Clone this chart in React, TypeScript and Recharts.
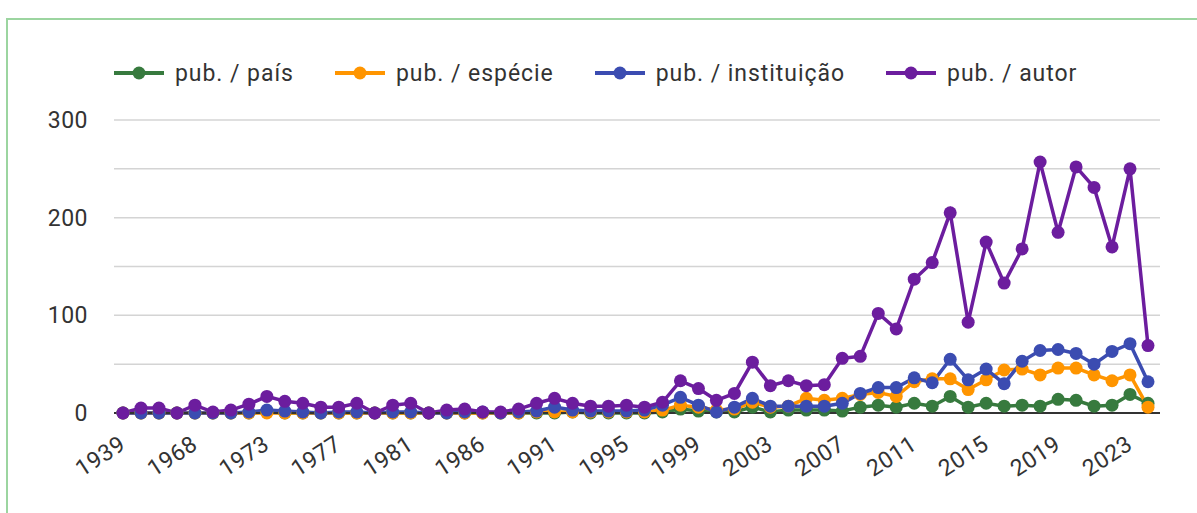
import { CartesianGrid, Line, LineChart, XAxis, YAxis } from 'recharts'

const years = [
  '1939', '1955', '1960', '1965', '1968', '1969', '1970', '1971', '1973', '1974',
  '1975', '1976', '1977', '1978', '1979', '1980', '1981', '1982', '1983', '1984',
  '1986', '1987', '1988', '1989', '1991', '1992', '1993', '1994', '1995', '1996',
  '1997', '1998', '1999', '2000', '2001', '2002', '2003', '2004', '2005', '2006',
  '2007', '2008', '2009', '2010', '2011', '2012', '2013', '2014', '2015', '2016',
  '2017', '2018', '2019', '2020', '2021', '2022', '2023', '2024',
]

const pubPais = [
  0, 0, 0, 0, 0, 0, 0, 0, 1, 0, 0, 0, 0, 0, 0, 0, 0, 0, 0, 0,
  0, 0, 0, 0, 0, 1, 0, 0, 0, 0, 1, 4, 2, 1, 1, 6, 1, 3, 3, 3,
  2, 6, 8, 6, 10, 7, 17, 6, 10, 7, 8, 7, 14, 13, 7, 8, 19, 10,
]

const pubEspecie = [
  0, 0, 0, 0, 0, 0, 0, 0, 0, 0, 0, 0, 0, 0, 0, 0, 0, 0, 0, 0,
  0, 0, 0, 1, 1, 1, 1, 1, 1, 1, 3, 8, 6, 3, 4, 11, 6, 7, 15, 13,
  15, 19, 21, 17, 32, 35, 35, 24, 34, 44, 45, 39, 46, 46, 39, 33, 39, 6,
]

const pubInstituicao = [
  0, 0, 0, 0, 0, 0, 0, 1, 3, 2, 1, 0, 1, 1, 0, 1, 1, 0, 0, 1,
  1, 0, 1, 2, 6, 3, 2, 2, 2, 3, 8, 16, 8, 1, 6, 15, 7, 7, 7, 7,
  10, 20, 26, 26, 36, 31, 55, 34, 45, 30, 53, 64, 65, 61, 50, 63, 71, 32,
]

const pubAutor = [
  0, 5, 5, 0, 8, 1, 3, 9, 17, 12, 10, 6, 6, 10, 0, 8, 10, 0, 3, 4,
  1, 1, 4, 10, 15, 10, 7, 7, 8, 6, 11, 33, 25, 13, 20, 52, 28, 33, 28, 29,
  56, 58, 102, 86, 137, 154, 205, 93, 175, 133, 168, 257, 185, 252, 231, 170, 250, 69,
]

const yTicks = [0, 50, 100, 150, 200, 250, 300]

const series = [
  { key: 'pais', name: 'pub. / país', color: '#377a3e' },
  { key: 'especie', name: 'pub. / espécie', color: '#ff9500' },
  { key: 'instituicao', name: 'pub. / instituição', color: '#3b4cb1' },
  { key: 'autor', name: 'pub. / autor', color: '#6c1d9e' },
]

const data = years.map((year, i) => ({
  year,
  pais: pubPais[i],
  especie: pubEspecie[i],
  instituicao: pubInstituicao[i],
  autor: pubAutor[i],
}))

const FONT = 'Roboto, "Noto Sans", sans-serif'
const TEXT = '#333'

function XTick({ x, y, payload }: any) {
  return (
    <g transform={`translate(${x + 4},${y + 27})`}>
      <text textAnchor="end" transform="rotate(-33)" fontSize={23} letterSpacing={0.5} fill={TEXT} fontFamily={FONT}>
        {payload.value}
      </text>
    </g>
  )
}

function YTick({ x, y, payload }: any) {
  if (payload.value % 100 !== 0) return null
  return (
    <text x={x - 18} y={y} dy={8} textAnchor="end" fontSize={23} letterSpacing={0.5} fill={TEXT} fontFamily={FONT}>
      {payload.value}
    </text>
  )
}

function LegendRow() {
  return (
    <div style={{ position: 'absolute', left: 114, top: 59, display: 'flex', alignItems: 'center', height: 28 }}>
      {series.map((s, i) => (
        <div key={s.key} style={{ display: 'flex', alignItems: 'center', marginLeft: i === 0 ? 0 : 41 }}>
          <svg width={50} height={14}>
            <line x1={0} x2={50} y1={7} y2={7} stroke={s.color} strokeWidth={4} />
            <circle cx={25} cy={7} r={6.5} fill={s.color} />
          </svg>
          <span style={{ marginLeft: 11, fontFamily: FONT, fontSize: 23, letterSpacing: 0.95, color: TEXT, whiteSpace: 'nowrap' }}>
            {s.name}
          </span>
        </div>
      ))}
    </div>
  )
}

export default function App() {
  return (
    <div style={{ position: 'absolute', left: 0, top: 0, width: 1197, height: 513, overflow: 'hidden', background: '#fff' }}>
      <div style={{ position: 'absolute', left: 6, top: 18, width: 1300, height: 600, border: '2px solid #9cd5a0' }} />
      <LegendRow />
      <div style={{ position: 'absolute', left: 0, top: 0 }}>
        <LineChart width={1197} height={513} data={data} margin={{ top: 120, right: 37, bottom: 0, left: 0 }}>
          <CartesianGrid vertical={false} stroke="#d4d4d4" strokeWidth={1.5} />
          <XAxis
            dataKey="year"
            interval={3}
            height={100}
            padding={{ left: 9, right: 12 }}
            tickLine={false}
            axisLine={{ stroke: '#333', strokeWidth: 2 }}
            tick={<XTick />}
          />
          <YAxis
            width={114}
            domain={[0, 300]}
            ticks={yTicks}
            axisLine={false}
            tickLine={false}
            tick={<YTick />}
          />
          {series.map((s) => (
            <Line
              key={s.key}
              dataKey={s.key}
              name={s.name}
              stroke={s.color}
              strokeWidth={3.5}
              dot={{ r: 6.5, fill: s.color, stroke: 'none' }}
              activeDot={false}
              isAnimationActive={false}
            />
          ))}
        </LineChart>
      </div>
    </div>
  )
}
